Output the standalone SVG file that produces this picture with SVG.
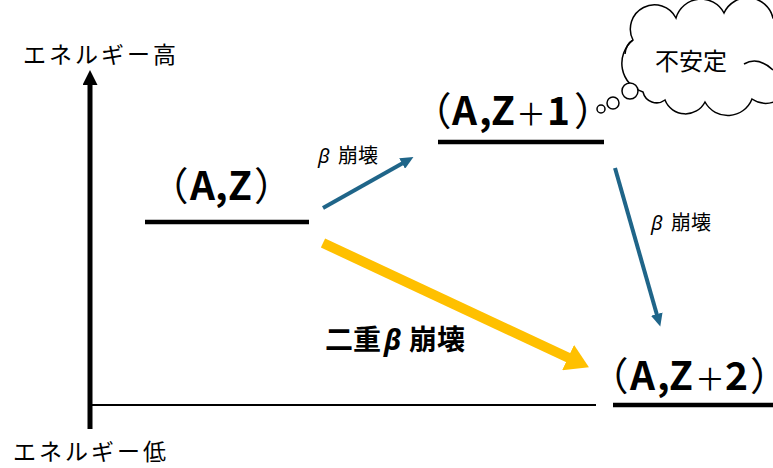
<svg xmlns="http://www.w3.org/2000/svg" width="773" height="468" viewBox="0 0 773 468">
<style>
.jp{font-family:"Noto Sans CJK JP","Noto Sans",sans-serif;fill:#000}
.gr{font-family:"Noto Sans","DejaVu Sans",sans-serif;font-style:italic}
.lvl{stroke:#000;stroke-width:4.5;fill:none}
.big{font-size:39px}
.b{font-weight:bold}
.n{font-weight:normal}
.p{font-weight:normal;font-feature-settings:"halt" 1}
.pl{font-weight:normal;font-size:30px}
.blue{stroke:#1f6589;stroke-width:4;fill:none}
.yel{stroke:#FFC000;stroke-width:10;fill:none}
.cloud{fill:#fff;stroke:#000;stroke-width:1.5}
</style>
<defs>
<marker id="ahB" markerUnits="userSpaceOnUse" markerWidth="14" markerHeight="12" refX="1" refY="6" orient="auto">
<path d="M0,0 L13,6 L0,12 z" fill="#1f6589"/>
</marker>
<marker id="ahY" markerUnits="userSpaceOnUse" markerWidth="24" markerHeight="28" refX="1" refY="14" orient="auto">
<path d="M0,0 L23,14 L0,28 z" fill="#FFC000"/>
</marker>
<marker id="ahK" markerUnits="userSpaceOnUse" markerWidth="16" markerHeight="16" refX="1" refY="7.5" orient="auto">
<path d="M0,0 L15,7.5 L0,15 z" fill="#000"/>
</marker>
</defs>

<g id="axis">
<line x1="90" y1="429" x2="90" y2="84" stroke="#000" stroke-width="5" marker-end="url(#ahK)"/>
<line x1="90" y1="405" x2="596" y2="405" stroke="#000" stroke-width="2"/>
<text class="jp" x="23" y="63" font-size="23" letter-spacing="3">エネルギー高</text>
<text class="jp" x="13" y="460" font-size="23" letter-spacing="3">エネルギー低</text>
</g>

<g id="node-AZ">
<line class="lvl" x1="145" y1="222" x2="309" y2="222"/>
<text class="jp big" y="200"><tspan class="p" x="169">（</tspan><tspan class="b" x="190">A</tspan><tspan class="b" x="215">,</tspan><tspan class="b" x="228">Z</tspan><tspan class="p" x="254">）</tspan></text>
</g>

<g id="node-AZ1">
<line class="lvl" x1="438" y1="142" x2="604" y2="142"/>
<text class="jp big" y="125"><tspan class="p" x="432">（</tspan><tspan class="b" x="452">A</tspan><tspan class="b" x="479">,</tspan><tspan class="b" x="491">Z</tspan><tspan class="pl" x="516">＋</tspan><tspan class="b" x="547">1</tspan><tspan class="p" x="574">）</tspan></text>
</g>

<g id="node-AZ2">
<line class="lvl" x1="613" y1="405" x2="773" y2="405"/>
<text class="jp big" y="390"><tspan class="p" x="609">（</tspan><tspan class="b" x="630">A</tspan><tspan class="b" x="657">,</tspan><tspan class="b" x="669">Z</tspan><tspan class="pl" x="695">＋</tspan><tspan class="b" x="725">2</tspan><tspan class="p" x="750">）</tspan></text>
</g>

<g id="cloud">
<path class="cloud" d="M643,92 A30,30 0 0 1 633,40 A24,24 0 0 1 676,18 A26,26 0 0 1 724,13 A26,26 0 0 1 773,18 A25,25 0 0 1 790,30 L790,85 A25,25 0 0 1 752,99 A26,26 0 0 1 705,102 A22,22 0 0 1 665,100 A14,14 0 0 1 643,92 Z"/>
<path d="M633,40 Q626,44 625,54" fill="none" stroke="#000" stroke-width="1.5"/>
<path d="M744,64 Q758,56 773,70" fill="none" stroke="#000" stroke-width="1.5"/>
<circle class="cloud" cx="630" cy="91" r="8"/>
<circle class="cloud" cx="613" cy="103" r="6"/>
<circle class="cloud" cx="601" cy="109" r="4"/>
<text class="jp" x="655" y="70" font-size="24">不安定</text>
</g>

<g id="connectors">
<line class="blue" x1="323" y1="208" x2="403" y2="163" marker-end="url(#ahB)"/>
<line class="blue" x1="615" y1="168" x2="657" y2="315" marker-end="url(#ahB)"/>
<line class="yel" x1="323" y1="243" x2="569" y2="358" marker-end="url(#ahY)"/>
</g>

<g id="labels">
<text class="jp" y="163" font-size="20"><tspan class="gr" x="318">β</tspan><tspan x="338">崩壊</tspan></text>
<text class="jp" y="230" font-size="20"><tspan class="gr" x="651">β</tspan><tspan x="671">崩壊</tspan></text>
<text class="jp b" y="350" font-size="28"><tspan x="325">二重</tspan><tspan class="gr" x="384">β</tspan><tspan x="409">崩壊</tspan></text>
</g>
</svg>
